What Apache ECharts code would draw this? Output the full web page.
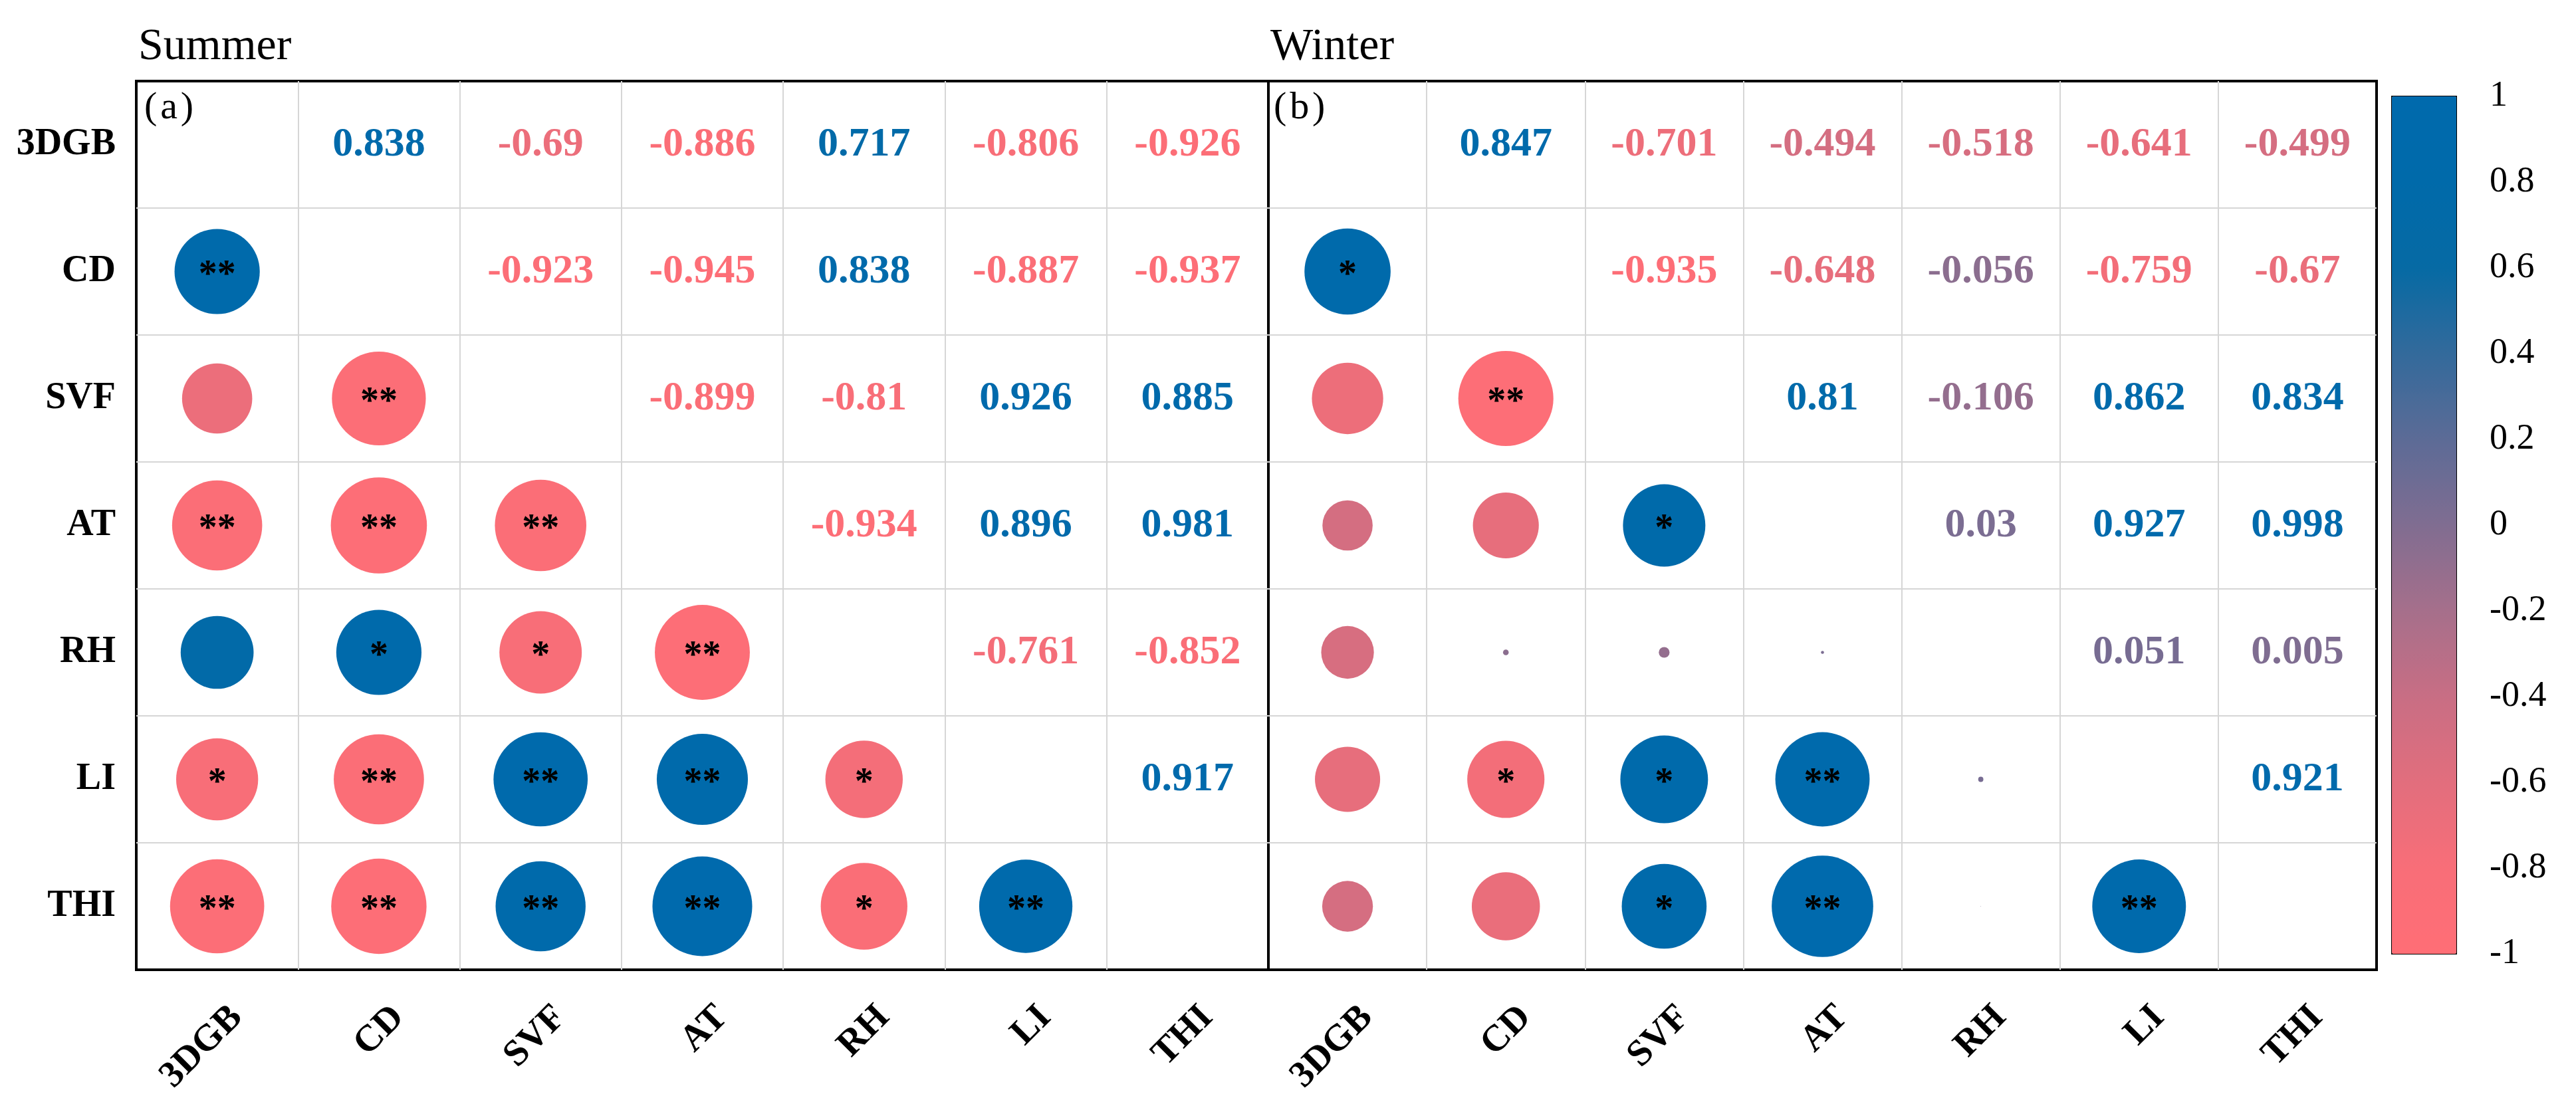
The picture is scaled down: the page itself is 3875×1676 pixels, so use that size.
<!DOCTYPE html>
<html>
<head>
<meta charset="utf-8">
<script src="https://cdn.jsdelivr.net/npm/echarts@6/dist/echarts.min.js"></script>
<style>
  html, body { margin: 0; padding: 0; background: #fff; }
  #chart { width: 3875px; height: 1676px; }
</style>
</head>
<body>
<div id="chart"></div>
<script>
// 变量名称
var vars = ['3DGB', 'CD', 'SVF', 'AT', 'RH', 'LI', 'THI'];

// 夏季 上三角相关系数 (每行从对角线右侧开始)
var summerR = [
    [0.838, -0.69, -0.886, 0.717, -0.806, -0.926],
    [-0.923, -0.945, 0.838, -0.887, -0.937],
    [-0.899, -0.81, 0.926, 0.885],
    [-0.934, 0.896, 0.981],
    [-0.761, -0.852],
    [0.917]
];
// 夏季 下三角显著性 (从第二行开始)
var summerSig = [
    ['**'],
    ['', '**'],
    ['**', '**', '**'],
    ['', '*', '*', '**'],
    ['*', '**', '**', '**', '*'],
    ['**', '**', '**', '**', '*', '**']
];

// 冬季
var winterR = [
    [0.847, -0.701, -0.494, -0.518, -0.641, -0.499],
    [-0.935, -0.648, -0.056, -0.759, -0.67],
    [0.81, -0.106, 0.862, 0.834],
    [0.03, 0.927, 0.998],
    [0.051, 0.005],
    [0.921]
];
var winterSig = [
    ['*'],
    ['', '**'],
    ['', '', '*'],
    ['', '', '', ''],
    ['', '*', '*', '**', ''],
    ['', '', '*', '**', '', '**']
];

// 色带刻度
var barMin = -1, barMax = 1, barStep = 0.2;
var barColors = ['#FF6E76', '#F86E78', '#E26E7D', '#C86E84', '#A66F8B', '#806D91',
                 '#5C6B96', '#336A9B', '#066AA4', '#006AAA', '#006AAD'];

var font = "'Liberation Serif', 'Times New Roman', serif";
var maxD = 153;   // |r| = 1 时圆的直径

// 拆出上三角文字 和 下三角圆
function build(upper, sig) {
    var cells = [], circles = [];
    upper.forEach(function (row, i) {
        row.forEach(function (v, k) { cells.push([i + 1 + k, i, v]); });
    });
    sig.forEach(function (row, k) {
        var i = k + 1;
        row.forEach(function (s, j) { circles.push([j, i, upper[j][i - j - 1], s]); });
    });
    return { cells: cells, circles: circles };
}
var summer = build(summerR, summerSig);
var winter = build(winterR, winterSig);

var grids = [
    { left: 205, top: 122, width: 1703, height: 1337 },
    { left: 1908, top: 122, width: 1667, height: 1337 }
];

var cellLine = { show: true, showMinLine: false, showMaxLine: false, lineStyle: { color: '#D6D6D6', width: 2 } };

function catX(idx) {
    return {
        gridIndex: idx, type: 'category', data: vars,
        axisLine: { show: false }, axisTick: { show: false },
        splitLine: cellLine,
        axisLabel: {
            interval: 0, rotate: 45, margin: 93, padding: [0, -42, 0, 0],
            fontFamily: font, fontWeight: 'bold', fontSize: 56, color: '#000'
        }
    };
}
function catY(idx) {
    return {
        gridIndex: idx, type: 'category', data: vars, inverse: true,
        axisLine: { show: false }, axisTick: { show: false },
        splitLine: cellLine,
        axisLabel: {
            show: idx === 0, interval: 0, margin: 31,
            fontFamily: font, fontWeight: 'bold', fontSize: 56, color: '#000'
        }
    };
}
function circleSeries(idx, data) {
    return {
        type: 'scatter', xAxisIndex: idx, yAxisIndex: idx, data: data,
        symbol: 'circle',
        symbolSize: function (val) { return maxD * Math.abs(val[2]); },
        itemStyle: { opacity: 1 },
        label: {
            show: true, position: 'inside', offset: [0, 7],
            formatter: function (p) { return p.data[3]; },
            fontFamily: font, fontWeight: 'bold', fontSize: 56, color: '#000'
        },
        emphasis: { disabled: true }
    };
}
function textSeries(idx, data) {
    return {
        type: 'scatter', xAxisIndex: idx, yAxisIndex: idx, data: data,
        symbol: 'circle', symbolSize: 0.5,
        itemStyle: { opacity: 1 },
        label: {
            show: true, position: 'inside',
            formatter: function (p) { return String(p.data[2]); },
            fontFamily: font, fontWeight: 'bold', fontSize: 62, color: 'inherit'
        },
        emphasis: { disabled: true }
    };
}

var chart = echarts.init(document.getElementById('chart'));
var option = {
    backgroundColor: '#fff',
    animation: false,
    title: [
        { text: 'Summer', left: 203, top: 32, textStyle: { fontFamily: font, fontWeight: 'normal', fontSize: 68, color: '#000' } },
        { text: 'Winter', left: 1906, top: 32, textStyle: { fontFamily: font, fontWeight: 'normal', fontSize: 68, color: '#000' } }
    ],
    grid: [
        Object.assign({ show: true, borderColor: '#000', borderWidth: 4, backgroundColor: 'transparent' }, grids[0]),
        Object.assign({ show: true, borderColor: '#000', borderWidth: 4, backgroundColor: 'transparent' }, grids[1]),
        { left: 3598, top: 145, width: 97, height: 1290, show: true, borderColor: '#000', borderWidth: 2, backgroundColor: 'transparent' }
    ],
    xAxis: [catX(0), catX(1), { gridIndex: 2, type: 'value', show: false }],
    yAxis: [catY(0), catY(1), {
        gridIndex: 2, type: 'value', min: barMin, max: barMax, interval: barStep, position: 'right',
        axisLine: { show: true, lineStyle: { color: '#000', width: 2 } },
        axisTick: { show: true, length: 26, lineStyle: { color: '#000', width: 2 } },
        splitLine: { show: false },
        axisLabel: { margin: 50, fontFamily: font, fontSize: 54, color: '#000' }
    }],
    visualMap: {
        type: 'continuous', min: barMin, max: barMax, dimension: 2,
        seriesIndex: [0, 1, 2, 3],
        inRange: { color: barColors },
        left: 3598, top: 145, itemWidth: 97, itemHeight: 1290, padding: 0,
        calculable: false, hoverLink: false, text: null
    },
    graphic: [
        { type: 'text', left: 217, top: 134, style: { text: '(\u200Aa\u200A)', font: '58px ' + font, fill: '#000' } },
        { type: 'text', left: 1916, top: 134, style: { text: '(\u200Ab\u200A)', font: '58px ' + font, fill: '#000' } }
    ],
    series: [
        circleSeries(0, summer.circles),
        textSeries(0, summer.cells),
        circleSeries(1, winter.circles),
        textSeries(1, winter.cells)
    ]
};
chart.setOption(option);
</script>
</body>
</html>
